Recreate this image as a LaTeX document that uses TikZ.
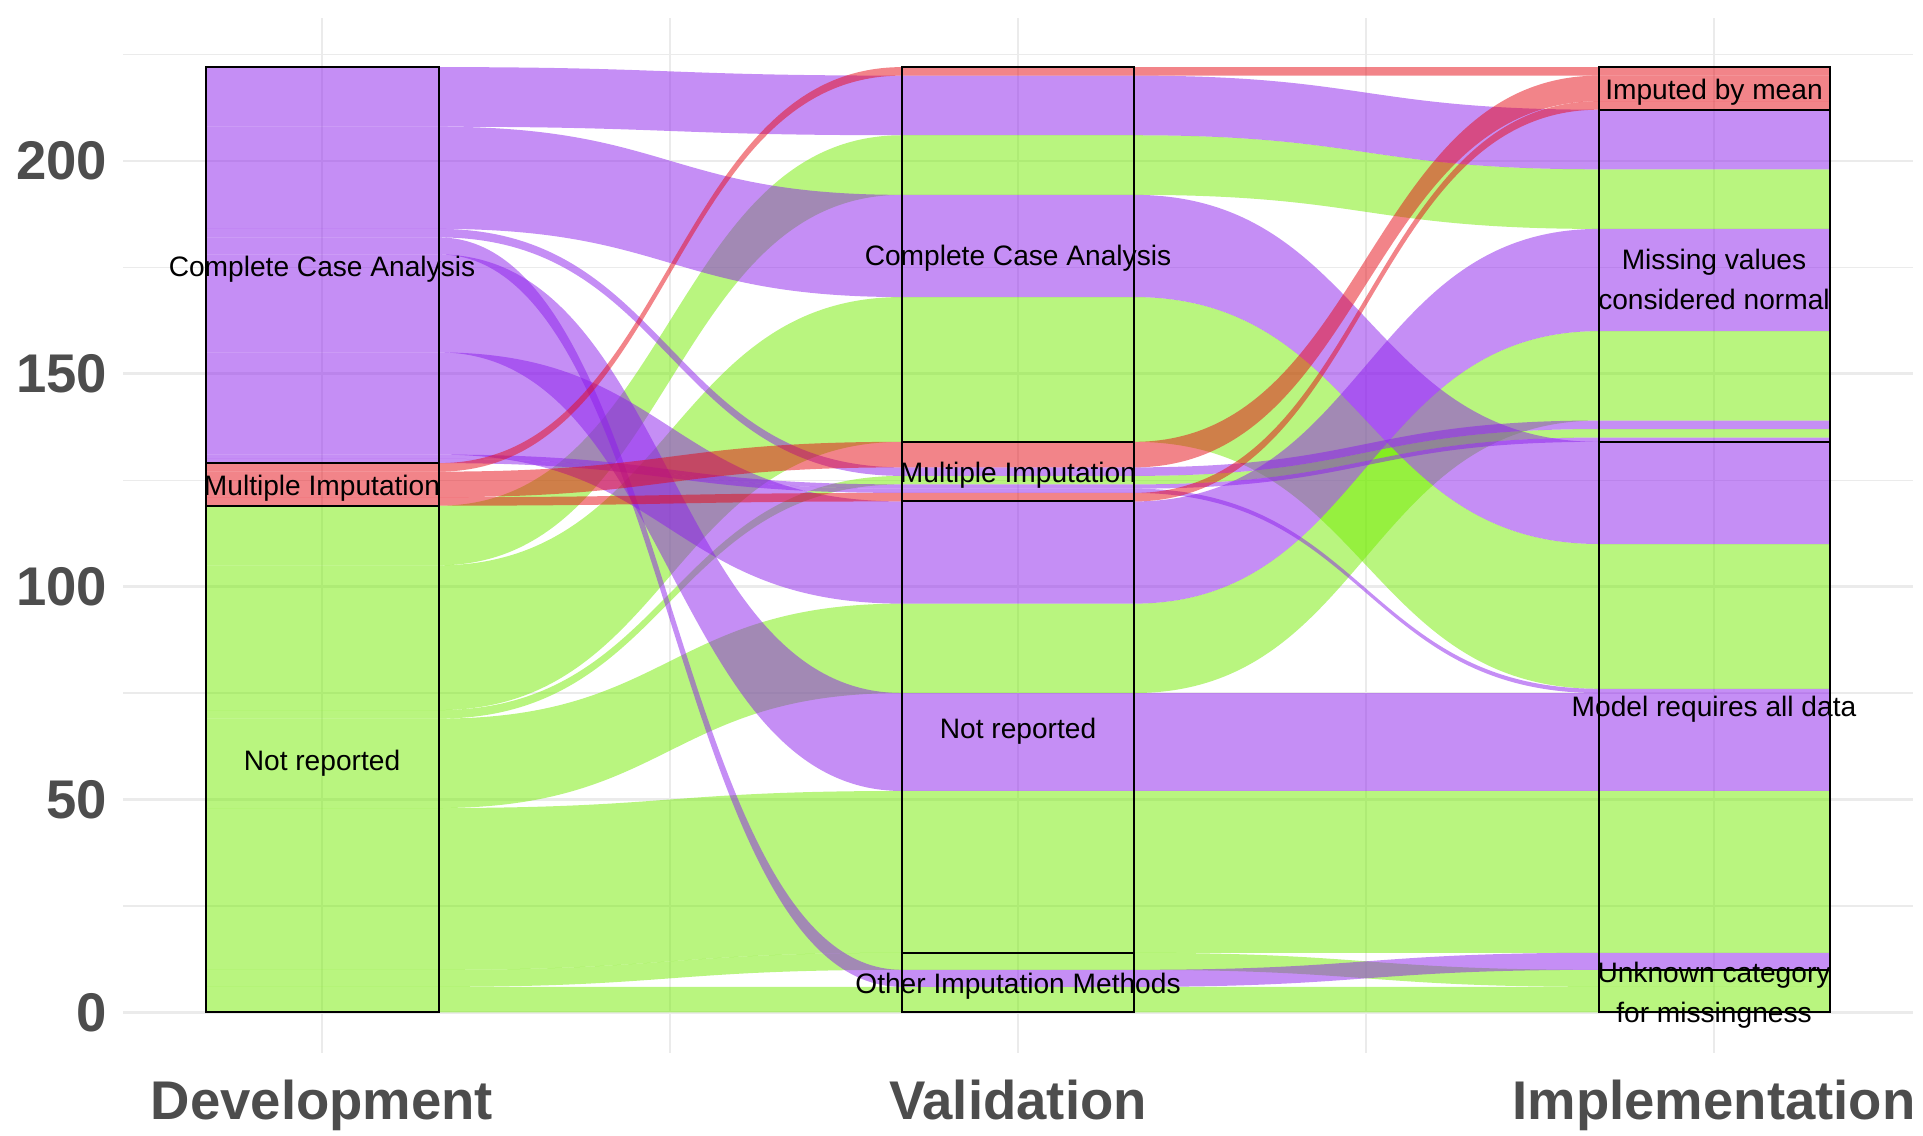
\documentclass[tikz,border=0pt]{standalone}
\usepackage{fontspec}
\setmainfont{Liberation Sans}
\usepackage{xcolor}
\usepackage{tikz}
\usetikzlibrary{positioning}

\definecolor{ccapurple}{RGB}{140,30,235}
\definecolor{mired}{RGB}{230,10,20}
\definecolor{nrgreen}{RGB}{115,235,0}
\definecolor{gridgrey}{RGB}{235,235,235}
\definecolor{axisgrey}{RGB}{77,77,77}

% one alluvium: colour, then top/bottom at Development, Validation, Implementation
\newcommand{\flowband}[7]{%
  \fill[#1, fill opacity=0.5]
    (206,#2) -- (439,#2) .. controls (670,#2) and (670,#4) .. (902,#4)
    -- (1134,#4) .. controls (1366,#4) and (1366,#6) .. (1599,#6)
    -- (1830,#6) -- (1830,#7) -- (1599,#7)
    .. controls (1366,#7) and (1366,#5) .. (1134,#5) -- (902,#5)
    .. controls (670,#5) and (670,#3) .. (439,#3) -- (206,#3) -- cycle;}

\begin{document}
\begin{tikzpicture}[
    x=0.01cm,
    y=0.042555cm,
    stratum/.style={
        draw=black,
        line width=0.6pt
    },
    strlabel/.style={
        align=center,
        inner sep=0pt,
        font=\fontsize{8}{11.5}\selectfont
    },
    ticklabel/.style={
        anchor=east,
        inner sep=0pt,
        text=axisgrey,
        font=\fontsize{15.5}{18}\selectfont\bfseries
    },
    axislabel/.style={
        anchor=base,
        inner sep=0pt,
        text=axisgrey,
        font=\fontsize{15.5}{18}\selectfont\bfseries
    },
    majorgrid/.style={draw=gridgrey, line width=0.7pt},
    minorgrid/.style={draw=gridgrey, line width=0.35pt}
]

\useasboundingbox (0,-28.95) rectangle (1923,237.76);

% Grid

\foreach \yy in {25,75,...,225}
    \draw[minorgrid] (123,\yy) -- (1913,\yy);
\foreach \yy in {0,50,...,200}
    \draw[majorgrid] (123,\yy) -- (1913,\yy);
\foreach \xx in {670,1366}
    \draw[minorgrid] (\xx,-9.5) -- (\xx,233.5);
\foreach \xx in {322,1018,1714}
    \draw[majorgrid] (\xx,-9.5) -- (\xx,233.5);


% Alluvia

\flowband{nrgreen}{119}{105}{206}{192}{198}{184}
\flowband{nrgreen}{105}{71}{168}{134}{110}{76}
\flowband{nrgreen}{71}{69}{126}{124}{137}{135}
\flowband{nrgreen}{69}{48}{96}{75}{160}{139}
\flowband{nrgreen}{48}{10}{52}{14}{52}{14}
\flowband{nrgreen}{10}{6}{14}{10}{10}{6}
\flowband{nrgreen}{6}{0}{6}{0}{6}{0}

\flowband{ccapurple}{222}{208}{220}{206}{212}{198}
\flowband{ccapurple}{208}{184}{192}{168}{134}{110}
\flowband{ccapurple}{184}{182}{128}{126}{139}{137}
\flowband{ccapurple}{182}{178}{10}{6}{14}{10}
\flowband{ccapurple}{178}{155}{75}{52}{75}{52}
\flowband{ccapurple}{155}{131}{120}{96}{184}{160}
\flowband{ccapurple}{131}{130}{124}{123}{135}{134}
\flowband{ccapurple}{130}{129}{123}{122}{76}{75}

\flowband{mired}{129}{127}{222}{220}{222}{220}
\flowband{mired}{127}{121}{134}{128}{220}{214}
\flowband{mired}{121}{119}{122}{120}{214}{212}


% Strata

\draw[stratum] (206,129) rectangle (439,222);
\draw[stratum] (206,119) rectangle (439,129);
\draw[stratum] (206,0) rectangle (439,119);

\draw[stratum] (902,134) rectangle (1134,222);
\draw[stratum] (902,120) rectangle (1134,134);
\draw[stratum] (902,14) rectangle (1134,120);
\draw[stratum] (902,0) rectangle (1134,14);

\draw[stratum] (1599,212) rectangle (1830,222);
\draw[stratum] (1599,134) rectangle (1830,212);
\draw[stratum] (1599,10) rectangle (1830,134);
\draw[stratum] (1599,0) rectangle (1830,10);


% Stratum labels

\node[strlabel] (devcca) at (322,174.6) {Complete Case Analysis};
\node[strlabel] (devmi) at (322,123.1) {Multiple Imputation};
\node[strlabel] (devnr) at (322,58.6) {Not reported};

\node[strlabel] (valcca) at (1018,177.1) {Complete Case Analysis};
\node[strlabel] (valmi) at (1018,126.1) {Multiple Imputation};
\node[strlabel] (valnr) at (1018,66.1) {Not reported};
\node[strlabel] (valother) at (1018,6.1) {Other Imputation Methods};

\node[strlabel] (impmean) at (1714,216.1) {Imputed by mean};
\node[strlabel] (impnormal) at (1714,172.1) {Missing values\\considered normal};
\node[strlabel] (impall) at (1714,71.1) {Model requires all data};
\node[strlabel] (impunknown) at (1714,4.1) {Unknown category\\for missingness};


% Axes

\node[ticklabel] (tick0) at (108,0) {0};
\node[ticklabel] (tick50) at (108,50) {50};
\node[ticklabel] (tick100) at (108,100) {100};
\node[ticklabel] (tick150) at (108,150) {150};
\node[ticklabel] (tick200) at (108,200) {200};

\node[axislabel] (devtitle) at (322,-25.1) {Development};
\node[axislabel] (valtitle) at (1018,-25.1) {Validation};
\node[axislabel] (imptitle) at (1714,-25.1) {Implementation};

\end{tikzpicture}
\end{document}
